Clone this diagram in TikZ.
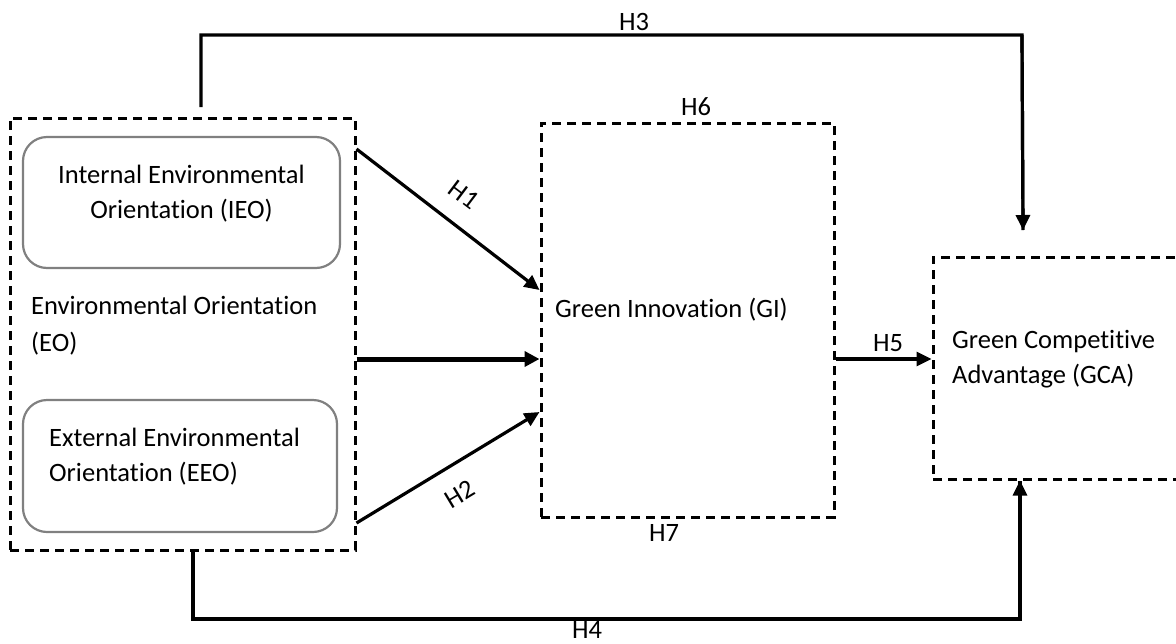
\documentclass[tikz,border=0pt]{standalone}
\usepackage{fontspec}
\setmainfont{Carlito}[Ligatures=NoCommon]
\usetikzlibrary{arrows.meta}
\begin{document}
\begin{tikzpicture}[x=1pt,y=-1pt,
  txt/.style={inner sep=0pt,font=\fontsize{26.5}{32}\selectfont},
  dashbox/.style={draw=black,line width=3pt,dash pattern=on 9pt off 6pt,rectangle,inner sep=0pt},
  roundbox/.style={draw=black!50,line width=2.2pt,rectangle,rounded corners=24pt,inner sep=0pt},
  conn/.style={draw=black,line width=3.2pt,-{Triangle[length=15pt,width=14pt]}},
  thickconn/.style={draw=black,line width=5pt,-{Triangle[length=15pt,width=15pt]}},
  plainconn/.style={draw=black,line width=3.2pt},
  lab/.style={txt}]
\useasboundingbox (0,0) rectangle (1176,643);
% boxes
\node[dashbox,minimum width=345pt,minimum height=432pt] (EO) at (182.5,334) {};
\node[roundbox,minimum width=317pt,minimum height=131pt] (IEO) at (181.5,202.5) {};
\node[roundbox,minimum width=314pt,minimum height=132pt] (EEO) at (180,466) {};
\node[dashbox,minimum width=293pt,minimum height=394pt] (GI) at (687.5,320) {};
\node[dashbox,minimum width=250pt,minimum height=222pt] (GCA) at (1058,368) {};
% texts
\node[txt,anchor=base] (ieo1) at (181.5,183) {Internal Environmental};
\node[txt,anchor=base] (ieo2) at (181.5,218) {Orientation (IEO)};
\node[txt,anchor=base west] (eo1) at (31,314) {Environmental Orientation};
\node[txt,anchor=base west] (eo2) at (31,351) {(EO)};
\node[txt,anchor=base west] (eeo1) at (49,446) {External Environmental};
\node[txt,anchor=base west] (eeo2) at (49,481) {Orientation (EEO)};
\node[txt,anchor=base west] (gitxt) at (555,317) {Green Innovation (GI)};
\node[txt,anchor=base west] (gca1) at (952,348) {Green Competitive};
\node[txt,anchor=base west] (gca2) at (952,383) {Advantage (GCA)};
% helper coordinates
\coordinate (y149) at (0,149);
\coordinate (y290) at (0,290);
\coordinate (y359) at (0,359);
\coordinate (y523) at (0,523);
\coordinate (y412) at (0,412);
\coordinate (x193) at (193,0);
\coordinate (x1020) at (1020,0);
\coordinate (h3s) at (201,107);
\coordinate (h3a) at (201,35);
\coordinate (h3b) at (1022,35);
\coordinate (h3e) at (1023,230);
\coordinate (h4a) at (193,619);
\coordinate (h4b) at (1020,619);
% connectors
\draw[conn] (EO.east |- y149) -- (GI.west |- y290);
\draw[thickconn] (EO.east |- y359) -- (GI.west |- y359);
\draw[conn] (EO.east |- y523) -- (GI.west |- y412);
\draw[conn] (GI.east |- y359) -- (GCA.west |- y359);
\draw[plainconn,line join=miter] (h3s) -- (h3a) -- (h3b) -- (h3e);
\draw[conn] (h3b) -- (h3e);
\draw[plainconn,line join=miter] (EO.south -| x193) -- (h4a) -- (h4b) -- (GCA.south -| x1020);
\draw[conn] (h4b) -- (GCA.south -| x1020);
% labels
\node[lab] (H1) at (464,195) [rotate=-37] {H1};
\node[lab] (H2) at (460,494) [rotate=31] {H2};
\node[lab] (H3) at (634,22) {H3};
\node[lab] (H4) at (587,630) {H4};
\node[lab] (H5) at (888,343) {H5};
\node[lab] (H6) at (696,107) {H6};
\node[lab] (H7) at (664,533) {H7};
\end{tikzpicture}
\end{document}
